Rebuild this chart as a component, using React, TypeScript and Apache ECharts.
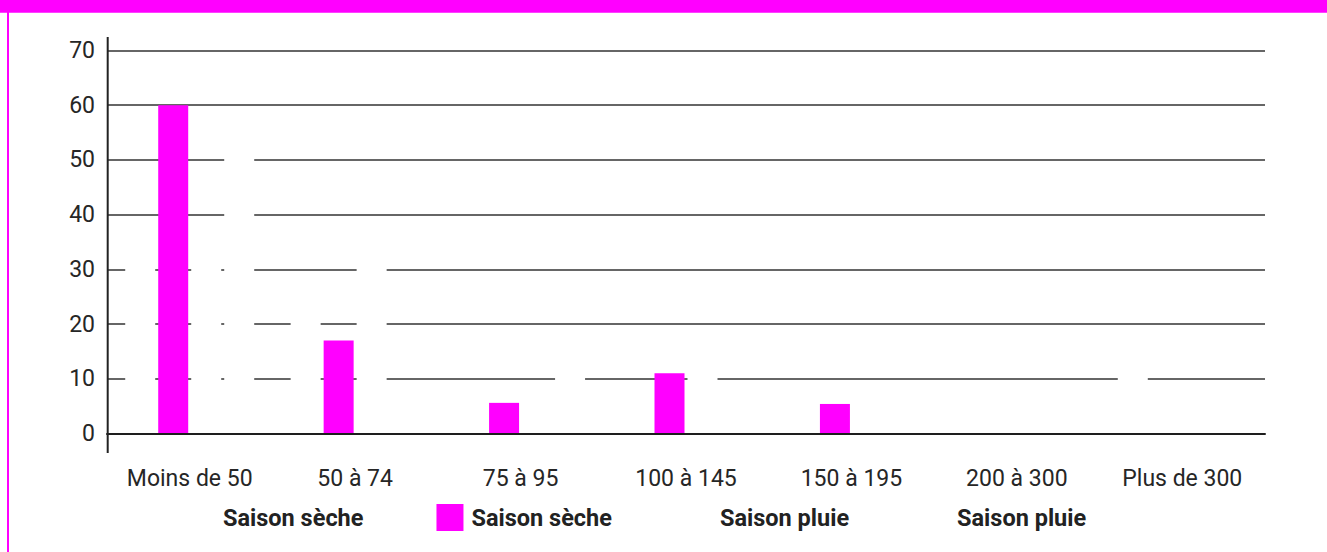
import React, { useEffect, useRef } from "react";
import * as echarts from "echarts";

const categories = ["Moins de 50", "50 à 74", "75 à 95", "100 à 145", "150 à 195", "200 à 300", "Plus de 300"];
// Series order as in the legend: white "Saison sèche", magenta "Saison sèche", white "Saison pluie" x2
const secheBlanc = [35, 24, 4, 3, 2, 1, 13];
const secheRose = [60, 17, 5.6, 11, 5.4, 0, 0];
const pluieA = [33, 34, 5, 14, 3, 2, 2];
const pluieB = [55, 2, 14, 5, 3, 2, 0];
const yMin = 0;
const yMax = 70;
const yStep = 10;

const seriesNames = ["sec_blanc", "sec_rose", "pluie_a", "pluie_b"];
const legendLabels: Record<string, string> = {
  sec_blanc: "Saison sèche",
  sec_rose: "Saison sèche",
  pluie_a: "Saison pluie",
  pluie_b: "Saison pluie",
};

const MAGENTA = "#ff00ff";
const FONT = "Roboto";

export default function App() {
  const ref = useRef<HTMLDivElement>(null);
  useEffect(() => {
    if (!ref.current) return;
    const chart = echarts.init(ref.current, undefined, { renderer: "svg" });
    const values = [secheBlanc, secheRose, pluieA, pluieB];
    const colors = ["#ffffff", MAGENTA, "#ffffff", "#ffffff"];
    chart.setOption({
      animation: false,
      grid: { left: 107, right: 62, top: 50.5, bottom: 118.5, containLabel: false },
      legend: {
        left: 183,
        top: 499,
        itemWidth: 27,
        itemHeight: 27,
        itemGap: 73,
        icon: "rect",
        data: seriesNames,
        formatter: (n: string) => legendLabels[n],
        textStyle: { fontFamily: FONT, fontSize: 23.5, fontWeight: "bold", color: "#222", padding: [0, 0, 0, 3] },
        selectedMode: false,
      },
      xAxis: {
        type: "category",
        data: categories,
        z: 5,
        axisLine: { lineStyle: { color: "#1e1e1e", width: 2 } },
        axisTick: { show: false },
        axisLabel: { fontFamily: FONT, fontSize: 23, color: "#262626", margin: 33 },
      },
      yAxis: {
        type: "value",
        min: yMin,
        max: yMax,
        interval: yStep,
        axisLine: { show: false },
        axisTick: { show: false },
        axisLabel: { fontFamily: FONT, fontSize: 23, color: "#262626", margin: 12 },
        splitLine: { lineStyle: { color: "#333", width: 1.5 } },
      },
      series: values.map((v, i) => ({
        type: "bar",
        name: seriesNames[i],
        data: v,
        barWidth: 30,
        barGap: "10%",
        itemStyle: { color: colors[i] },
        emphasis: { disabled: true },
      })),
      graphic: [
        { type: "rect", shape: { x: 0, y: 0, width: 1327, height: 12.7 }, style: { fill: MAGENTA }, silent: true },
        { type: "rect", shape: { x: 7, y: 0, width: 2, height: 552 }, style: { fill: MAGENTA }, silent: true },
        {
          type: "line",
          shape: { x1: 107.7, y1: 37, x2: 107.7, y2: 453 },
          style: { stroke: "#222", lineWidth: 2 },
          silent: true,
          z: 10,
        },
      ],
    });
    return () => chart.dispose();
  }, []);
  return (
    <div
      ref={ref}
      style={{ position: "absolute", left: 0, top: 0, width: 1327, height: 552, background: "#fff" }}
    />
  );
}
